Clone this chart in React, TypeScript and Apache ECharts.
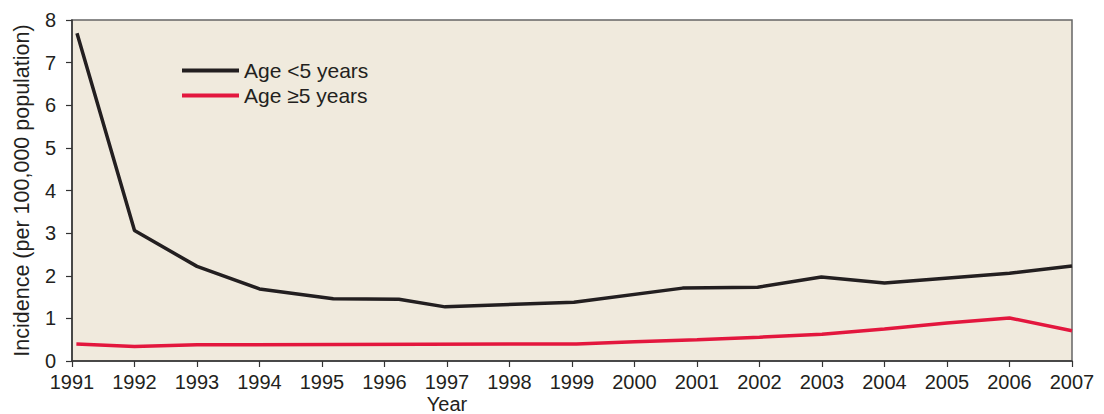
import React, { useEffect, useRef } from "react";
import * as echarts from "echarts";

const under5Years = [1991.08, 1992, 1993, 1994, 1995.18, 1996.23, 1996.97, 1999.03, 2000.77, 2001.97, 2002.99, 2004, 2006, 2007];
const under5Values = [7.69, 3.06, 2.22, 1.69, 1.46, 1.45, 1.27, 1.38, 1.71, 1.73, 1.97, 1.83, 2.06, 2.23];

const over5Years = [1991.07, 1992, 1993, 1999.07, 2000, 2001, 2002, 2003, 2004, 2005, 2006, 2007];
const over5Values = [0.4, 0.34, 0.38, 0.4, 0.45, 0.5, 0.56, 0.63, 0.75, 0.89, 1.01, 0.71];

const seriesNames = ["Age <5 years", "Age \u22655 years"];
const yTickValues = [0, 1, 2, 3, 4, 5, 6, 7, 8];
const xTickYears = [1991, 2007];

const FONT = '"Liberation Sans", Arial, Helvetica, sans-serif';
const TEXT = "#231f20";

export default function App() {
  const ref = useRef<HTMLDivElement>(null);
  useEffect(() => {
    if (!ref.current) return;
    const chart = echarts.init(ref.current, undefined, { renderer: "svg" });
    const zip = (xs: number[], ys: number[]) => xs.map((x, i) => [x, ys[i]]);
    chart.setOption({
      animation: false,
      backgroundColor: "#ffffff",
      textStyle: { fontFamily: FONT },
      grid: {
        left: 72,
        right: 32,
        top: 20,
        bottom: 53,
        show: true,
        backgroundColor: "#f0eadd",
        borderColor: "#666666",
        borderWidth: 1.5,
      },
      legend: {
        orient: "vertical",
        left: 182,
        top: 59,
        padding: 0,
        itemWidth: 57,
        itemHeight: 4,
        itemGap: 2,
        icon: "rect",
        data: seriesNames,
        textStyle: { fontSize: 21, color: TEXT, fontFamily: FONT, lineHeight: 23 },
      },
      xAxis: {
        type: "value",
        min: xTickYears[0],
        max: xTickYears[1],
        interval: 1,
        splitLine: { show: false },
        axisLine: { show: true, lineStyle: { color: "#333333", width: 1.5 } },
        axisTick: { show: true, length: 6, lineStyle: { color: "#333333", width: 1.2 } },
        axisLabel: {
          color: TEXT,
          fontSize: 20,
          fontFamily: FONT,
          margin: 11,
          formatter: (v: number) => String(v),
        },
      },
      yAxis: {
        type: "value",
        min: yTickValues[0],
        max: yTickValues[yTickValues.length - 1],
        interval: 1,
        splitLine: { show: false },
        axisLine: { show: true, lineStyle: { color: "#333333", width: 1.5 } },
        axisTick: { show: true, length: 6, lineStyle: { color: "#333333", width: 1.2 } },
        axisLabel: { color: TEXT, fontSize: 20, fontFamily: FONT, margin: 16 },
        name: "Incidence (per 100,000 population)",
        nameLocation: "middle",
        nameGap: 39,
        nameTextStyle: { color: TEXT, fontSize: 21.5, fontFamily: FONT },
      },
      graphic: [
        {
          type: "text",
          x: 447,
          y: 404,
          style: {
            text: "Year",
            textAlign: "center",
            textVerticalAlign: "middle",
            fill: TEXT,
            font: `20px ${FONT}`,
          },
        },
      ],
      series: [
        {
          name: seriesNames[0],
          type: "line",
          data: zip(under5Years, under5Values),
          showSymbol: false,
          symbol: "none",
          lineStyle: { color: "#231f20", width: 3.5 },
          itemStyle: { color: "#231f20" },
        },
        {
          name: seriesNames[1],
          type: "line",
          data: zip(over5Years, over5Values),
          showSymbol: false,
          symbol: "none",
          lineStyle: { color: "#e3173e", width: 3.5 },
          itemStyle: { color: "#e3173e" },
        },
      ],
    });
    return () => chart.dispose();
  }, []);
  return (
    <div
      ref={ref}
      style={{ position: "fixed", left: 0, top: 0, width: 1104, height: 414 }}
    />
  );
}
